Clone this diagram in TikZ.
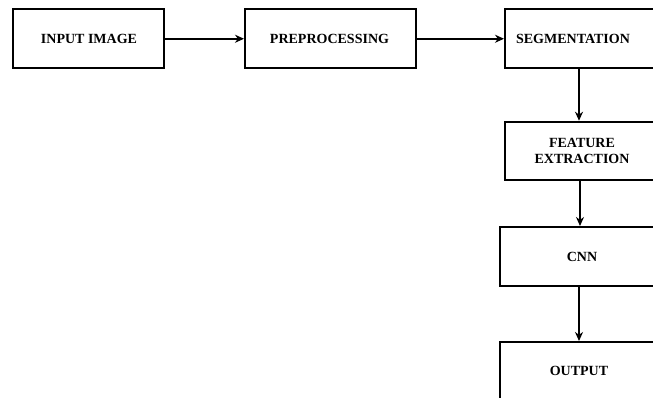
\documentclass[tikz,border=0pt]{standalone}
\usepackage{fontspec}
\setmainfont{Liberation Serif}
\usetikzlibrary{arrows.meta}
\begin{document}
\begin{tikzpicture}[x=1pt,y=-1pt,
  box/.style={draw=black, line width=2pt, rectangle, inner sep=0pt, fill=white},
  lbl/.style={font=\fontsize{14}{16}\selectfont\bfseries, align=center, inner sep=0pt, text=black},
  arr/.style={line width=2pt, -{Stealth[length=9pt,width=8pt]}}]
\clip (0,0) rectangle (653,398);
\fill[white] (0,0) rectangle (653,398);
% boxes
\node[box, minimum width=151pt, minimum height=58.5pt] (in) at (88.5,38.75) {};
\node[box, minimum width=171pt, minimum height=58.5pt] (pre) at (330.5,38.75) {};
\node[box, minimum width=175pt, minimum height=58.5pt] (seg) at (592.5,38.75) {};
\node[box, minimum width=175pt, minimum height=58.5pt] (feat) at (592.5,151) {};
\node[box, minimum width=180pt, minimum height=59pt] (cnn) at (590,256.5) {};
\node[box, minimum width=180pt, minimum height=80pt] (out) at (590,382) {};
% labels
\node[lbl] (tin) at (89,39) {INPUT IMAGE};
\node[lbl] (tpre) at (329.5,39) {PREPROCESSING};
\node[lbl] (tseg) at (573,39) {SEGMENTATION};
\node[lbl] (tfeat) at (582,151) {FEATURE\\EXTRACTION};
\node[lbl] (tcnn) at (582,257) {CNN};
\node[lbl] (tout) at (579,371) {OUTPUT};
% connectors
\coordinate (ax1) at (579,0);
\coordinate (ax2) at (580,0);
\draw[arr] (in.east) -- (pre.west);
\draw[arr] (pre.east) -- (seg.west);
\draw[arr] (seg.south -| ax1) -- (feat.north -| ax1);
\draw[arr] (feat.south -| ax2) -- (cnn.north -| ax2);
\draw[arr] (cnn.south -| ax1) -- (out.north -| ax1);
\end{tikzpicture}
\end{document}
